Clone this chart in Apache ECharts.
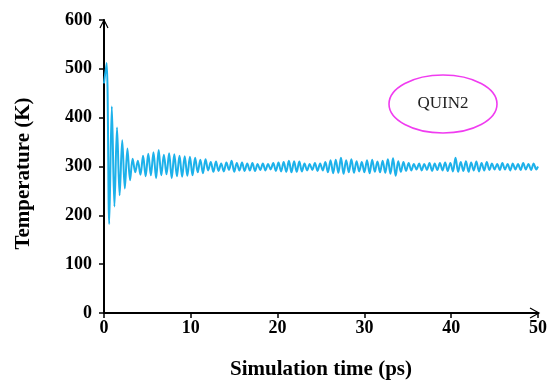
<!DOCTYPE html>
<html>
<head>
<meta charset="utf-8">
<script src="https://cdn.jsdelivr.net/npm/echarts@6/dist/echarts.min.js"></script>
<style>html,body{margin:0;padding:0;background:#fff;}#c{width:550px;height:385px;}</style>
</head>
<body>
<div id="c"></div>
<script>
// Simulation time (ps)
const times = [
  0,0.3,0.6,0.9,1.2,1.5,1.8,2.1,2.4,2.7,3,3.3,3.6,3.9,4.2,4.5,4.8,5.1,5.4,5.7,6,6.3,6.6,6.9,7.2,7.5,7.8,8.1,8.4,8.7,9,9.3,9.6,9.9,
  10.2,10.5,10.8,11.1,11.4,11.7,12,12.3,12.6,12.9,13.2,13.5,13.8,14.1,14.4,14.7,15,15.3,15.6,15.9,16.2,16.5,16.8,17.1,17.4,17.7,18,18.3,18.6,18.9,19.2,19.5,19.8,
  20.1,20.4,20.7,21,21.3,21.6,21.9,22.2,22.5,22.8,23.1,23.4,23.7,24,24.3,24.6,24.9,25.2,25.5,25.8,26.1,26.4,26.7,27,27.3,27.6,27.9,28.2,28.5,28.8,29.1,29.4,29.7,
  30,30.3,30.6,30.9,31.2,31.5,31.8,32.1,32.4,32.7,33,33.3,33.6,33.9,34.2,34.5,34.8,35.1,35.4,35.7,36,36.3,36.6,36.9,37.2,37.5,37.8,38.1,38.4,38.7,39,39.3,39.6,39.9,
  40.2,40.5,40.8,41.1,41.4,41.7,42,42.3,42.6,42.9,43.2,43.5,43.8,44.1,44.4,44.7,45,45.3,45.6,45.9,46.2,46.5,46.8,47.1,47.4,47.7,48,48.3,48.6,48.9,49.2,49.5,49.8,50
];
// Temperature (K)
const temps = [
  470,512,182,423,218,380,241,354,255,337,272,316,288,312,283,322,280,326,282,329,276,334,282,324,284,327,276,325,280,322,279,321,281,320,
  282,318,288,314,286,315,292,309,289,310,291,306,290,308,293,312,289,307,292,308,291,306,292,307,291,305,293,306,292,305,294,307,291,
  308,290,309,289,312,288,311,289,310,290,306,292,305,293,307,291,306,292,309,288,313,286,314,287,318,285,313,288,315,287,311,290,309,
  288,313,286,314,289,310,288,312,287,315,285,317,281,311,289,309,291,307,292,305,294,306,292,305,293,307,291,306,293,307,292,308,291,307,
  290,318,289,309,291,311,289,308,292,310,290,307,292,309,293,306,294,305,293,307,294,305,292,306,294,305,293,307,294,305,293,306,294,300
];
const xTicks = [0,10,20,30,40,50];
const yTicks = [0,100,200,300,400,500,600];
const seriesLabel = 'QUIN2';

const chart = echarts.init(document.getElementById('c'));
const font = "'Liberation Serif','Times New Roman',serif";
const data = times.map((t,i)=>[t,temps[i]]);
chart.setOption({
  animation:false,
  backgroundColor:'#fff',
  grid:{left:104, top:20, width:438, height:296},
  xAxis:{
    type:'value', min:xTicks[0], max:xTicks[xTicks.length-1], interval:10,
    name:'Simulation time (ps)', nameLocation:'middle', nameGap:46,
    nameTextStyle:{fontFamily:font, fontWeight:'bold', fontSize:21, color:'#000'},
    axisLine:{lineStyle:{color:'#000', width:2}},
    axisTick:{show:true, length:5, lineStyle:{color:'#000', width:1.5}},
    axisLabel:{fontFamily:font, fontWeight:'bold', fontSize:18, color:'#000', margin:6},
    splitLine:{show:false}
  },
  yAxis:{
    type:'value', min:yTicks[0], max:yTicks[yTicks.length-1], interval:100,
    name:'Temperature (K)', nameLocation:'middle', nameGap:70,
    nameTextStyle:{fontFamily:font, fontWeight:'bold', fontSize:21, color:'#000', padding:[0,14,0,0]},
    axisLine:{lineStyle:{color:'#000', width:2}},
    axisTick:{show:true, length:5, lineStyle:{color:'#000', width:1.5}},
    axisLabel:{fontFamily:font, fontWeight:'bold', fontSize:18, color:'#000', margin:12},
    splitLine:{show:false}
  },
  series:[{
    type:'line', data:data, showSymbol:false, symbol:'none', smooth:0.35,
    lineStyle:{color:'#1db1ea', width:2}
  }]
});

const yTop = chart.convertToPixel({gridIndex:0},[xTicks[0], yTicks[yTicks.length-1]]);
const xEnd = chart.convertToPixel({gridIndex:0},[xTicks[xTicks.length-1], yTicks[0]]);
chart.setOption({
  graphic:[
    {type:'polyline', shape:{points:[[yTop[0]-4,yTop[1]+8],[yTop[0],yTop[1]],[yTop[0]+4,yTop[1]+8]]}, style:{stroke:'#000', lineWidth:1.2, fill:null}},
    {type:'polyline', shape:{points:[[xEnd[0]-8,xEnd[1]-5],[xEnd[0]+1,xEnd[1]],[xEnd[0]-8,xEnd[1]+5]]}, style:{stroke:'#000', lineWidth:1.2, fill:null}},
    {type:'ellipse', shape:{cx:443, cy:104, rx:54, ry:29}, style:{stroke:'#f03cf0', lineWidth:1.6, fill:null}},
    {type:'text', x:443, y:104, style:{text:seriesLabel, font:"17px "+font, fill:'#222', align:'center', verticalAlign:'middle'}}
  ]
});
</script>
</body>
</html>
